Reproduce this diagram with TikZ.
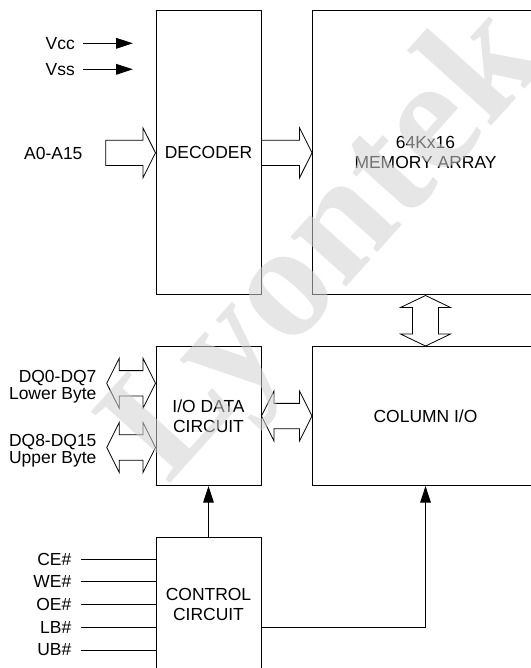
\documentclass[tikz,border=0pt]{standalone}
\usepackage{fontspec}
\setmainfont{Liberation Sans}
\newfontfamily\markfont{Liberation Serif}
\usepackage{tikz}
\usetikzlibrary{arrows.meta, positioning, calc}

\begin{document}
\begin{tikzpicture}[
    x=0.75pt, y=-0.75pt,
    node distance=37.9pt,
    box/.style={draw, line width=0.75pt, minimum width=78.75pt, align=center, inner sep=0pt,
        font=\fontsize{13.1}{15}\selectfont},
    pin/.style={anchor=east, inner sep=0pt, font=\fontsize{13.1}{12.5}\selectfont},
    line/.style={line width=0.75pt},
    arrow/.style={line width=0.75pt, -{Triangle[length=12.5pt, width=8pt]}},
    bus/.style={line width=0.6pt, fill=white, to path={
        let \p1=(\tikztostart), \p2=(\tikztotarget) in
        (\x1,\y1+9.5pt) -- (\x2-9.4pt,\y1+9.5pt) -- (\x2-9.4pt,\y1+18.75pt) -- (\x2,\y1)
        -- (\x2-9.4pt,\y1-18.75pt) -- (\x2-9.4pt,\y1-9.5pt) -- (\x1,\y1-9.5pt) -- cycle}},
    dbus/.style={line width=0.6pt, fill=white, to path={
        let \p1=(\tikztostart), \p2=(\tikztotarget) in
        (\x1,\y1) -- (\x1+9.4pt,\y1+18.75pt) -- (\x1+9.4pt,\y1+9.5pt) -- (\x2-9.4pt,\y1+9.5pt)
        -- (\x2-9.4pt,\y1+18.75pt) -- (\x2,\y1) -- (\x2-9.4pt,\y1-18.75pt) -- (\x2-9.4pt,\y1-9.5pt)
        -- (\x1+9.4pt,\y1-9.5pt) -- (\x1+9.4pt,\y1-18.75pt) -- cycle}},
    vbus/.style={line width=0.6pt, fill=white, to path={
        let \p1=(\tikztostart), \p2=(\tikztotarget) in
        (\x1,\y1) -- (\x1+18.75pt,\y1-9pt) -- (\x1+9.75pt,\y1-9pt) -- (\x1+9.75pt,\y2+9pt)
        -- (\x1+18.75pt,\y2+9pt) -- (\x1,\y2) -- (\x1-18.75pt,\y2+9pt) -- (\x1-9.75pt,\y2+9pt)
        -- (\x1-9.75pt,\y1-9pt) -- (\x1-18.75pt,\y1-9pt) -- cycle}},
    watermark/.style={rotate=48, text=black!18, opacity=0.55, inner sep=0pt,
        font=\markfont\bfseries\fontsize{122}{122}\selectfont}
]
    \useasboundingbox (0,0) rectangle (531,668);
    \clip (0,0) rectangle (531,668);

    \node[box, minimum height=213.2pt] (decoder) at (208.5,152.85) {DECODER};
    \node[box, minimum width=169.5pt, minimum height=213.2pt, right=of decoder] (memory) {64Kx16\\MEMORY ARRAY};
    \node[box, minimum height=104.25pt, below=of decoder] (io) {I/O DATA\\CIRCUIT};
    \node[box, minimum width=169.5pt, minimum height=104.25pt, right=of io] (column) {COLUMN I/O};
    \node[box, minimum height=100.5pt, below=of io] (ctrl) {CONTROL\\CIRCUIT};

    \node[pin] (vcc) at (75,43.3) {Vcc};
    \node[pin] (vss) at (75,69.3) {Vss};
    \draw[arrow, shorten >=17pt] ([xshift=6.2pt]vcc.east) -- (vcc -| decoder.west);
    \draw[arrow, shorten >=17pt] ([xshift=6.2pt]vss.east) -- (vss -| decoder.west);

    \coordinate[left=37.3pt of decoder] (addr);
    \node[pin] (addrlabel) at (82.7,153) {A0-A15};
    \draw[bus] (addr) to (decoder.west);
    \draw[bus] (decoder.east) to (memory.west);
    \draw[vbus] (memory.south) to (column.north);
    \draw[dbus] (io.east) to (column.west);

    \node[pin, align=right] (dqlow) at (96.7,386.5) {DQ0-DQ7\\Lower Byte};
    \node[pin, align=right] (dqhigh) at (96.7,450.5) {DQ8-DQ15\\Upper Byte};
    \coordinate (dqa) at (106.7,383.3);
    \coordinate (dqb) at (106.7,447.5);
    \draw[dbus] (dqa) to (dqa -| io.west);
    \draw[dbus] (dqb) to (dqb -| io.west);

    \node[pin] (ce) at (71.5,559) {CE\#};
    \node[pin] (we) at (71.5,581.75) {WE\#};
    \node[pin] (oe) at (71.5,604.5) {OE\#};
    \node[pin] (lb) at (71.5,627.25) {LB\#};
    \node[pin] (ub) at (71.5,650) {UB\#};
    \draw[line] ([xshift=7pt]ce.east) -- (ce -| ctrl.west);
    \draw[line] ([xshift=7pt]we.east) -- (we -| ctrl.west);
    \draw[line] ([xshift=7pt]oe.east) -- (oe -| ctrl.west);
    \draw[line] ([xshift=7pt]lb.east) -- (lb -| ctrl.west);
    \draw[line] ([xshift=7pt]ub.east) -- (ub -| ctrl.west);

    \draw[arrow] (ctrl.north) -- (io.south);
    \draw[arrow] (ctrl.east |- lb.east) -| (column.south);

    \node[watermark] (mark) at (330,248) {Lyontek};
\end{tikzpicture}
\end{document}
